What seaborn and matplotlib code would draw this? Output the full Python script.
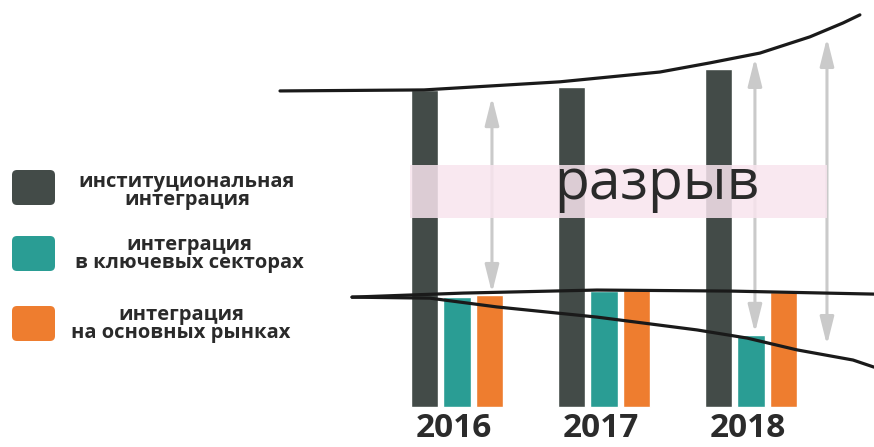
import matplotlib
matplotlib.use('Agg')
import matplotlib.pyplot as plt
from matplotlib.patches import FancyBboxPatch
import pandas as pd
import seaborn as sns

# values (index, 2018 institutional = 100)
years = ['2016', '2017', '2018']
series = ['институциональная\nинтеграция',
          'интеграция\nв ключевых секторах',
          'интеграция\nна основных рынках']
institutional = [93.8, 94.7, 100.0]
key_sectors = [32.5, 34.3, 21.3]
main_markets = [33.1, 34.6, 34.0]

# hand-drawn trend lines (x in category units, y in index units)
upper_x = [-1.204, -0.224, 0.701, 1.381, 1.721, 2.061, 2.401, 2.626, 2.741]
upper_y = [93.5, 93.8, 96.2, 99.1, 101.8, 104.7, 109.5, 113.6, 116.0]
flat_x = [-0.714, 0.041, 0.952, 1.857, 2.837]
flat_y = [32.5, 33.7, 34.6, 34.3, 33.4]
down_x = [-0.714, -0.184, 0.272, 0.952, 1.633, 1.973, 2.313, 2.694, 2.837]
down_y = [32.5, 32.2, 29.6, 26.6, 22.8, 20.4, 16.9, 13.9, 11.8]

# gap arrows: x, top, bottom
gap_x = [0.238, 2.027, 2.517]
gap_top = [91.7, 103.3, 109.2]
gap_bottom = [33.7, 21.9, 18.3]

colors = ['#434b48', '#2a9d94', '#ee7d2f']

df = pd.DataFrame({
    'year': years * 3,
    'series': [series[0]] * 3 + [series[1]] * 3 + [series[2]] * 3,
    'value': institutional + key_sectors + main_markets,
})

sns.set_theme(style='white')
plt.rcParams['font.family'] = ['Open Sans', 'DejaVu Sans']

fig = plt.figure(figsize=(8.74, 4.47), dpi=100)
ax = fig.add_axes([0, 0, 1, 1])
sns.barplot(data=df, x='year', y='value', hue='series', hue_order=series,
            palette=colors, saturation=1, width=0.66, gap=0.15,
            legend=False, ax=ax, zorder=1)
ax.set_xlim(-3.109, 2.837)
ax.set_ylim(-11.83, 120.4)
ax.axis('off')

# gap arrows
for x, top, bot in zip(gap_x, gap_top, gap_bottom):
    ax.annotate('', xy=(x, bot), xytext=(x, top),
                arrowprops=dict(arrowstyle='<|-|>,head_length=1.2,head_width=0.3',
                                color='#cacaca', lw=2.2, mutation_scale=14,
                                shrinkA=0, shrinkB=0), zorder=2)

# pink band with label
ax.fill_between([-0.32, 2.517], 55.9, 71.6, color='#f8e4ee', alpha=0.85,
                lw=0, zorder=3)
ax.text(1.36, 61.6, 'разрыв', fontsize=41, color='#2a2a2a', ha='center',
        va='baseline', zorder=5)

# trend lines
for xs, ys in [(upper_x, upper_y), (flat_x, flat_y), (down_x, down_y)]:
    ax.plot(xs, ys, color='#1a1a1a', lw=2.3, solid_capstyle='round',
            solid_joinstyle='round', zorder=4)

# year labels
for i, y in enumerate(years):
    ax.text(i - 0.02, -8.9, y, fontsize=24, fontweight='bold', color='#2b2b2b',
            ha='center', va='baseline')

# legend drawn in pixel space
lg = fig.add_axes([0, 0, 1, 1])
lg.set_xlim(0, 874)
lg.set_ylim(447, 0)
lg.axis('off')
lg.patch.set_visible(False)
box_tops = [170, 236, 306]
text_cy = [191, 254, 324]
text_cx = [187, 189, 181]
for c, top, label, cx, cy in zip(colors, box_tops, series, text_cx, text_cy):
    lg.add_patch(FancyBboxPatch((12, top), 43, 35,
                                boxstyle='round,pad=0,rounding_size=5',
                                fc=c, ec='none'))
    lg.text(cx, cy, label, fontsize=14.5, fontweight='bold',
            color='#2a2a2a', ha='center', va='center', linespacing=0.85)

fig.savefig('out.png', dpi=100)
